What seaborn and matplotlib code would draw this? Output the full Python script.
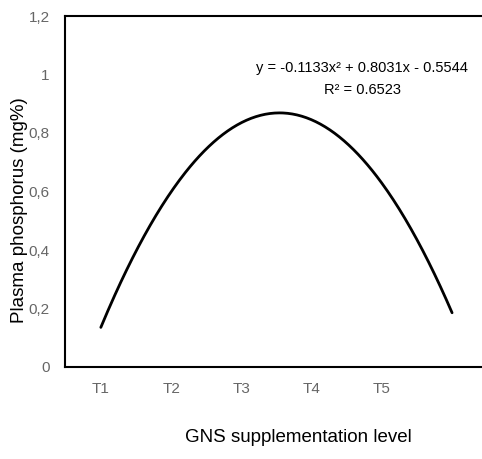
import numpy as np
import pandas as pd
import matplotlib
matplotlib.use("Agg")
import matplotlib.pyplot as plt
import seaborn as sns

# Treatment levels shown on the x axis
levels = ["T1", "T2", "T3", "T4", "T5"]
level_pos = [1, 2, 3, 4, 5]

# Quadratic trend fitted to plasma phosphorus (mg%), a*x^2 + b*x + c
trend_coef = [-0.1133, 0.8031, -0.5544]
r_squared = 0.6523
trend_span = [1, 6]

y_ticks = [0, 0.2, 0.4, 0.6, 0.8, 1.0, 1.2]
y_tick_labels = ["0", "0,2", "0,4", "0,6", "0,8", "1", "1,2"]

sns.set_theme(style="white")
plt.rcParams["font.family"] = ["Liberation Sans", "DejaVu Sans"]

xs = np.linspace(trend_span[0], trend_span[1], 300)
trend = pd.DataFrame({"level": xs, "phosphorus": np.polyval(trend_coef, xs)})

fig = plt.figure(figsize=(4.82, 4.59), dpi=100)
ax = fig.add_axes([65 / 482, 92 / 459, 421.5 / 482, 351 / 459])

sns.lineplot(data=trend, x="level", y="phosphorus", ax=ax, color="black", linewidth=2.0)

ax.set_xlim(0.49, 6.49)
ax.set_ylim(0, 1.2)
ax.set_xticks(level_pos)
ax.set_xticklabels(levels)
ax.set_yticks(y_ticks)
ax.set_yticklabels(y_tick_labels)
ax.tick_params(axis="both", length=0, labelsize=11, labelcolor="#666666")
ax.tick_params(axis="x", pad=11)
ax.tick_params(axis="y", pad=11)

for side in ["left", "bottom", "top"]:
    ax.spines[side].set_visible(True)
    ax.spines[side].set_color("black")
    ax.spines[side].set_linewidth(1.5)
ax.spines["right"].set_visible(False)

ax.set_xlabel("")
ax.set_ylabel("")
fig.text(20 / 482, 1 - 210 / 459, "Plasma phosphorus (mg%)", rotation=90,
         ha="center", va="center", fontsize=13.5, color="black")
fig.text(298 / 482, 1 - 438 / 459, "GNS supplementation level",
         ha="center", va="center", fontsize=13.5, color="black")

a, b, c = trend_coef
eq = f"y = {a:.4f}x² + {b:.4f}x - {abs(c):.4f}"
ax.text(4.72, 1.022, eq, ha="center", va="center", fontsize=10.5, color="black")
ax.text(4.72, 0.947, f"R² = {r_squared:.4f}", ha="center", va="center", fontsize=10.5, color="black")

fig.savefig("out.png", dpi=100)
